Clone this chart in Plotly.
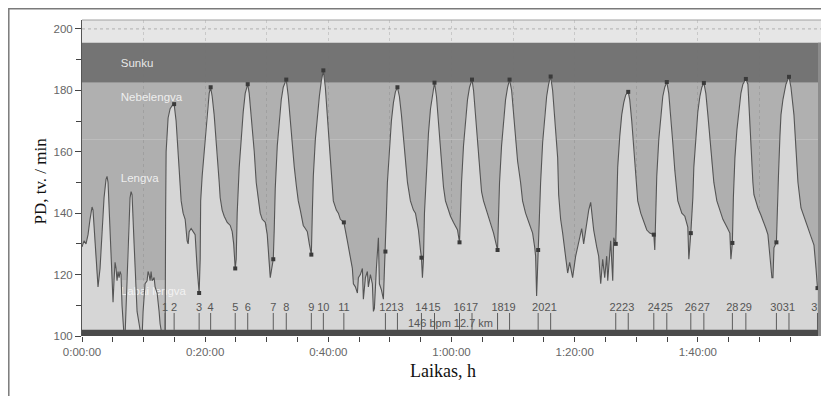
import plotly.graph_objects as go

# ---------------- data ----------------
# time in minutes from start, heart rate in bpm
time_min = [
    0.00, 0.33, 0.65, 0.98, 1.30, 1.63, 1.79, 2.11, 2.44, 2.60, 2.93, 3.25, 3.58, 3.90, 4.07, 4.23,
    4.55, 4.88, 5.04, 5.20, 5.37, 5.53, 5.69, 5.85, 6.02, 6.18, 6.34, 6.50, 6.67, 6.83, 6.99, 7.15,
    7.48, 7.80, 7.97, 8.13, 8.46, 8.78, 8.94, 9.27, 9.59, 9.76, 9.92, 10.24, 10.57, 10.73, 10.89,
    11.06, 11.22, 11.38, 11.71, 11.87, 12.20, 12.52, 12.68, 13.01, 13.33,
    13.50, 13.58, 13.66, 13.98, 14.31, 14.63, 14.96, 15.28, 15.61, 15.93, 16.10, 16.42, 16.75,
    17.07, 17.24, 17.40, 17.72, 18.05, 18.37, 18.70, 19.02,
    19.19, 19.27, 19.51, 19.84, 20.16, 20.33, 20.65, 20.89, 21.14, 21.46, 21.95, 22.28, 22.44,
    22.76, 23.09, 23.58, 24.07, 24.39, 24.63, 24.88,
    25.04, 25.20, 25.53, 25.85, 26.18, 26.50, 26.91, 27.15, 27.48, 27.97, 28.29, 28.62, 28.94,
    29.27, 29.76, 30.08, 30.41, 30.57, 30.73, 31.06,
    31.22, 31.38, 31.71, 32.03, 32.36, 32.68, 33.17, 33.50, 33.82, 34.15, 34.47, 34.80, 35.12,
    35.45, 35.93, 36.26, 36.59, 36.91, 37.24,
    37.40, 37.56, 37.89, 38.21, 38.54, 38.86, 39.19, 39.51, 39.84, 40.16, 40.49, 40.81, 41.30,
    41.63, 41.95, 42.52, 43.09, 43.58, 43.90, 44.07, 44.39, 44.72, 44.88, 45.20, 45.53, 45.69,
    46.02, 46.34, 46.50, 46.83, 47.15, 47.32, 47.48, 47.80, 48.13, 48.29, 48.62, 48.94, 49.27,
    49.43, 49.59, 49.92, 50.24, 50.57, 50.89, 51.22, 51.54, 51.87, 52.20, 52.52, 52.85, 53.33,
    53.82, 54.15, 54.63, 54.96, 55.12, 55.28,
    55.45, 55.61, 55.93, 56.26, 56.59, 56.91, 57.24, 57.56, 57.89, 58.21, 58.54, 58.70, 59.02,
    59.35, 59.84, 60.33, 60.98, 61.30,
    61.46, 61.63, 61.95, 62.28, 62.60, 62.93, 63.33, 63.58, 63.90, 64.23, 64.55, 64.88, 65.20,
    65.85, 66.34, 66.83, 67.48,
    67.64, 67.80, 68.13, 68.46, 68.78, 69.11, 69.43, 69.76, 70.08, 70.41, 70.73, 71.22, 71.54,
    72.03, 72.52, 73.17, 73.50, 73.66, 73.82, 74.07,
    74.31, 74.47, 74.80, 75.12, 75.45, 75.77, 76.10, 76.42, 76.75, 77.07, 77.24, 77.40, 77.72,
    78.05, 78.54, 78.86, 79.19, 79.67, 80.16, 80.65, 81.14, 81.46, 81.79, 82.28, 82.60, 83.09,
    83.58, 83.90, 84.23, 84.55, 84.88, 85.20, 85.37, 85.85, 86.18, 86.34, 86.67,
    86.83, 86.99, 87.32, 87.64, 87.97, 88.29, 88.70, 88.94, 89.27, 89.59, 89.92, 90.24, 90.73,
    91.06, 91.71, 92.20, 92.85, 93.01,
    93.17, 93.33, 93.66, 93.98, 94.31, 94.63, 94.96, 95.28, 95.61, 95.93, 96.26, 96.75, 97.40,
    97.89, 98.37, 98.54, 98.86,
    99.19, 99.35, 99.67, 100.00, 100.33, 100.65, 100.98, 101.30, 101.63, 101.95, 102.28, 102.60,
    103.09, 103.58, 104.07, 104.72, 105.20, 105.37, 105.61,
    105.77, 106.02, 106.34, 106.67, 106.99, 107.32, 107.80, 108.13, 108.29, 108.62, 108.94,
    109.11, 109.76, 110.24, 110.73, 111.06, 111.38, 111.71, 111.87, 112.03, 112.20, 112.36, 112.76,
    112.93, 113.09, 113.33, 113.50, 113.82, 114.31, 114.80, 115.12, 115.61, 115.93, 116.26,
    116.75, 117.24, 117.56, 118.05, 118.37, 118.86, 119.19, 119.43,
]
hr_bpm = [
    129, 131, 130, 133, 138, 142, 141, 130, 120, 116, 122, 135, 145, 151, 152, 150,
    135, 118, 111, 118, 124, 122, 118, 121, 119, 121, 120, 110, 103, 100, 100, 110,
    132, 145, 147, 146, 130, 113, 108, 104, 100, 100, 108, 117, 118, 121, 120,
    118, 121, 118, 119, 116, 114, 108, 104, 100, 100,
    100, 140, 160, 171, 174, 175, 175.5, 170, 160, 148, 144, 140, 138,
    131, 130, 134, 135, 134, 133, 122, 114,
    125, 144, 152, 160, 170, 174, 179, 181, 178, 172, 160, 150, 145,
    141, 139, 137, 136, 134, 130, 122,
    125, 140, 155, 165, 173, 179, 182, 179, 172, 160, 150, 144, 140,
    138, 137, 133, 122, 119, 121, 125,
    135, 148, 162, 171, 177, 181, 183.5, 178, 170, 162, 155, 149, 144,
    141, 136, 135, 134, 130, 126.5,
    140, 152, 164, 172, 178, 183, 186.5, 181, 172, 162, 152, 144, 141,
    140, 138, 137, 131, 125, 122, 117, 116, 114, 119, 120, 122, 112,
    119, 121, 116, 120, 117, 108, 109, 122, 132, 117, 115, 112, 127.5,
    140, 150, 162, 170, 176, 179.5, 181, 178, 172, 165, 156, 150, 144,
    141, 140, 134.5, 128, 125.5, 119,
    125, 140, 155, 166, 174, 179, 182.5, 178, 170, 160, 152, 148.5, 144,
    142, 139, 137, 134.5, 130.5,
    140, 150, 162, 171, 177, 181, 183.5, 180, 172, 163, 154, 147, 144,
    140, 137, 133.5, 128,
    140, 150, 162, 171, 177, 181, 183.5, 180, 172, 164, 157, 150, 144,
    140, 137, 133.5, 129, 126, 113, 128,
    139, 150, 163, 172, 178, 182, 184.5, 180, 172, 163, 158, 146, 138,
    133.5, 125, 120.5, 124, 119, 126, 131, 135, 130, 134.5, 141, 143.5, 134.5,
    129, 126, 117, 125, 119, 126, 118, 131, 118, 132, 130,
    140, 155, 165, 172, 176, 178.5, 179.5, 177, 170, 162, 153, 144, 140,
    138, 134.5, 133.5, 133, 128,
    140, 152, 164, 172, 178, 181, 182.7, 179, 172, 163, 154, 144, 140,
    139, 135.5, 125, 133.5,
    145, 155, 165, 173, 178, 181, 182.4, 179, 172, 164, 156, 150,
    144, 141, 138, 135.5, 133.5, 125, 130.3,
    145, 158, 167, 174, 179, 182, 183.7, 182, 175, 161, 150,
    146, 141.7, 139.4, 137, 135, 133, 127, 124, 119, 119, 128.7, 130.5,
    145, 152, 165, 172, 177, 182, 184.4, 181, 172, 160, 150,
    141.7, 139, 137, 134.5, 133, 129.6, 122, 115.6,
]

lap_no = list(range(1, 33))
lap_time = [13.50, 14.96, 19.02, 20.89, 24.88, 26.91, 31.06, 33.17, 37.24, 39.19, 42.52,
            49.27, 51.22, 55.12, 57.24, 61.30, 63.33, 67.48, 69.43, 74.07, 76.10, 86.67,
            88.70, 92.85, 94.96, 98.86, 100.98, 105.61, 107.80, 112.76, 114.80, 119.43]
lap_hr = [100, 175.5, 114, 181, 122, 182, 125, 183.5, 126.5, 186.5, 137,
          127.5, 181, 125.5, 182.5, 130.5, 183.5, 128, 183.5, 128, 184.5, 130,
          179.5, 133, 182.7, 133.5, 182.4, 130.3, 183.7, 130.5, 184.4, 115.6]

zone_names = ["Sunku", "Nebelengva", "Lengva", "Labai lengva"]
zone_lo = [182.5, 164, 118, 100]
zone_hi = [195.5, 182.5, 164, 118]
zone_label_hr = [188.6, 177.5, 151, 114.3]
zone_colors = ["#747474", "#b0b0b0", "#afafaf", "#bdbdbd"]

x_tick_vals = [0, 10, 20, 30, 40, 50, 60, 70, 80, 90, 100, 110, 120]
x_tick_text = ["0:00:00", "", "0:20:00", "", "0:40:00", "", "1:00:00", "", "1:20:00", "",
               "1:40:00", "", "2:00:00"]
y_tick_vals = [100, 120, 140, 160, 180, 200]
summary_text = "146 bpm 12.7 km"
x_title = "Laikas, h"
y_title = "PD, tv. / min"

# ---------------- figure ----------------
# the page places the figure 8 px from the window's top-left corner
OFF = 8
W, H = 829 - OFF, 396 - OFF
ML, MR, MT, MB = 82 - OFF, 8, 20 - OFF, 60
PW, PH = W - ML - MR, H - MT - MB


def px_x(p):
    """window x pixel -> paper x"""
    return (p - OFF - ML) / PW


def px_y(p):
    """window y pixel -> paper y"""
    return (H - MB - (p - OFF)) / PH


SANS = "Liberation Sans, Arial, sans-serif"
SERIF = "Liberation Serif, Times New Roman, serif"

fig = go.Figure()

# heart-rate area (fill only)
fig.add_trace(go.Scatter(
    x=time_min, y=hr_bpm, mode="none", fill="tozeroy",
    fillcolor="#d6d6d6", hoverinfo="skip"))

# zone labels (over the fill, under the line)
fig.add_trace(go.Scatter(
    x=[6.3] * len(zone_names), y=zone_label_hr, text=zone_names, mode="text",
    textposition="middle right",
    textfont=dict(family=SANS, size=11.5, color="rgba(245,245,245,0.92)"),
    hoverinfo="skip"))

# heart-rate line
fig.add_trace(go.Scatter(
    x=time_min, y=hr_bpm, mode="lines",
    line=dict(color="#555555", width=1.1), hoverinfo="skip"))

# lap markers on curve
fig.add_trace(go.Scatter(
    x=lap_time, y=lap_hr, mode="markers",
    marker=dict(symbol="square", size=4, color="#3a3a3a"),
    hoverinfo="skip"))

# lap tick lines
lx, ly = [], []
for t in lap_time:
    lx += [t, t, None]
    ly += [102, 107.5, None]
fig.add_trace(go.Scatter(x=lx, y=ly, mode="lines",
                         line=dict(color="#5c5c5c", width=1), hoverinfo="skip"))

# lap labels
fig.add_trace(go.Scatter(
    x=lap_time, y=[109.2] * len(lap_time), text=[str(n) for n in lap_no], mode="text",
    textposition="middle center", cliponaxis=False,
    textfont=dict(family=SANS, size=11, color="#555555"), hoverinfo="skip"))

shapes = []
for lo, hi, c in zip(zone_lo, zone_hi, zone_colors):
    shapes.append(dict(type="rect", xref="paper", yref="y", x0=0, x1=1, y0=lo, y1=hi,
                       fillcolor=c, line=dict(width=0), layer="below"))
# dotted line at 200
shapes.append(dict(type="line", xref="paper", yref="y", x0=0, x1=1, y0=200, y1=200,
                   line=dict(color="#b0b0b0", width=1, dash="dot"), layer="below"))
# bottom dark band
shapes.append(dict(type="rect", xref="paper", yref="y", x0=0, x1=1, y0=100, y1=102,
                   fillcolor="#4b4b4b", line=dict(width=0), layer="above"))
# right strip
shapes.append(dict(type="rect", xref="paper", yref="y", x0=px_x(818), x1=px_x(824),
                   y0=100, y1=195.5, fillcolor="#8c8c8c", line=dict(width=0), layer="above"))
# top edge of plot
shapes.append(dict(type="line", xref="paper", yref="paper", x0=0, x1=1, y0=1, y1=1,
                   line=dict(color="#a0a0a0", width=1), layer="above"))
# outer frame
shapes.append(dict(type="rect", xref="paper", yref="paper",
                   x0=px_x(8.8), x1=px_x(840), y0=px_y(410), y1=px_y(8.8),
                   line=dict(color="#7a7a7a", width=1.5), fillcolor="rgba(0,0,0,0)",
                   layer="above"))

annotations = [
    dict(x=59.8, y=104.3, xref="x", yref="y", text=summary_text, showarrow=False,
         font=dict(family=SANS, size=11, color="#555555")),
    dict(x=px_x(443), y=px_y(383), xref="paper", yref="paper", text=x_title,
         showarrow=False, font=dict(family=SERIF, size=18, color="#111111")),
    dict(x=px_x(28), y=px_y(181), xref="paper", yref="paper", text=y_title,
         showarrow=False, textangle=-90, font=dict(family=SERIF, size=17, color="#111111")),
]

fig.update_layout(
    width=W, height=H,
    margin=dict(l=ML, r=MR, t=MT, b=MB, pad=0, autoexpand=False),
    paper_bgcolor="white", plot_bgcolor="#e6e6e6",
    showlegend=False,
    shapes=shapes, annotations=annotations,
    xaxis=dict(range=[0, 120], tickmode="array", tickvals=x_tick_vals, ticktext=x_tick_text,
               automargin=False,
               ticks="outside", ticklen=5, tickwidth=1, tickcolor="#444444",
               showgrid=True, gridcolor="rgba(110,110,110,0.25)", griddash="dot", gridwidth=1,
               minor=dict(tickmode="linear", tick0=0, dtick=5, ticks="outside", ticklen=5,
                          tickcolor="#444444", showgrid=False),
               showline=False, zeroline=False,
               tickfont=dict(family=SANS, size=11.5, color="#666666")),
    yaxis=dict(range=[100, 202.9], tickmode="array", tickvals=y_tick_vals,
               automargin=False,
               ticks="outside", ticklen=6, tickwidth=1, tickcolor="#444444",
               minor=dict(tickmode="linear", tick0=100, dtick=10, ticks="outside",
                          ticklen=5, tickcolor="#444444", showgrid=False),
               showgrid=False, zeroline=False, showline=True, linecolor="#555555",
               linewidth=1, mirror="ticks",
               tickfont=dict(family=SANS, size=11.5, color="#666666")),
)

fig.write_html("out.html")
